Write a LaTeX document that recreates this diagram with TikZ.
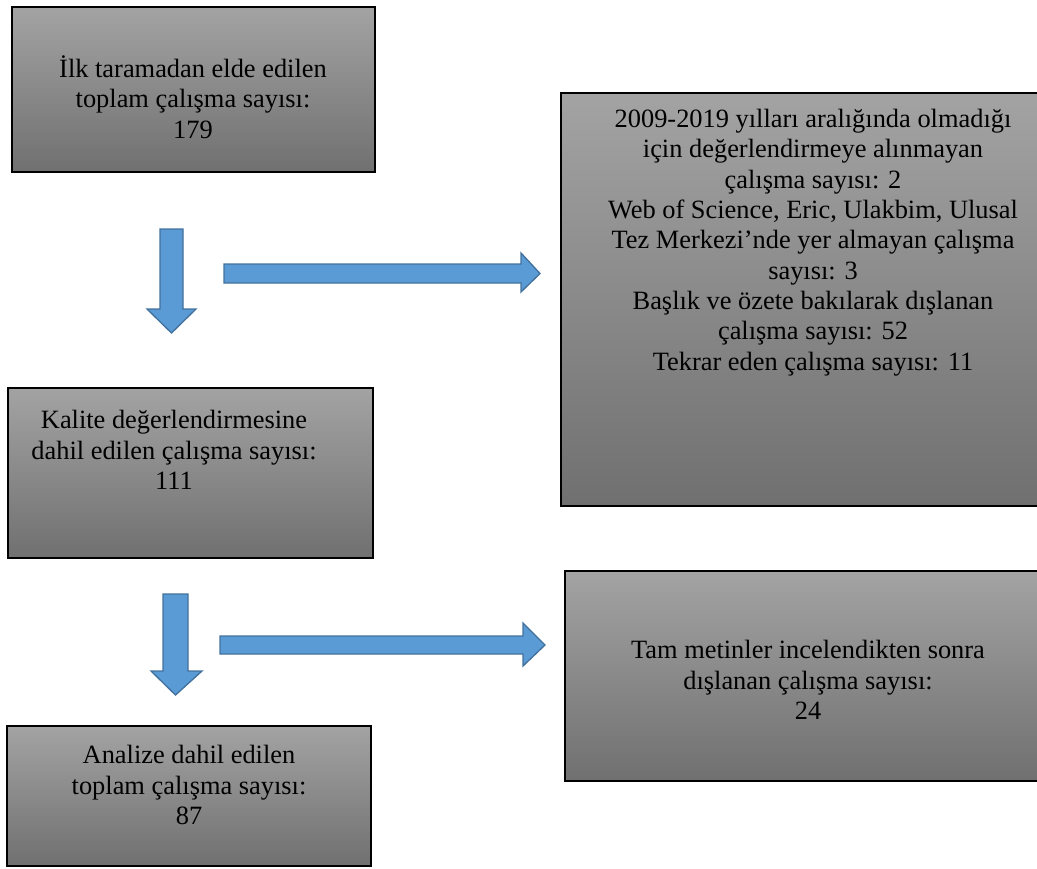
\documentclass[tikz,border=0pt]{standalone}
\usepackage{fontspec}
\setmainfont{Liberation Serif}
\usepackage{tikz}
\usepackage{xcolor}
\usetikzlibrary{positioning,calc}
\definecolor{boxtop}{RGB}{163,163,163}
\definecolor{boxbot}{RGB}{112,112,112}
\definecolor{arrfill}{RGB}{91,155,213}
\definecolor{arrline}{RGB}{65,113,156}
\newcommand{\pxu}{0.4545pt}

\begin{document}
\begin{tikzpicture}[x=\pxu, y=-\pxu,
  box/.style={draw=black, line width=0.8pt, top color=boxtop, bottom color=boxbot, inner sep=0pt},
  txt/.style={align=center, inner sep=0pt, font=\fontsize{12pt}{13.8pt}\selectfont},
  blockarr/.style={fill=arrfill, draw=arrline, line width=0.6pt, line join=miter}]
\useasboundingbox (0,0) rectangle (1037,868);

% Left column
\node[box, minimum width=363*\pxu, minimum height=165*\pxu] (ilk) at (193.5,89.5) {};
\node[txt] (ilkT) at (193,97) {İlk taramadan elde edilen\\toplam çalışma sayısı:\\179};

\node[box, minimum width=365*\pxu, minimum height=170*\pxu] (kalite) at (190.5,473) {};
\node[txt] (kaliteT) at (174,450) {Kalite değerlendirmesine\\dahil edilen çalışma sayısı:\\111};

\node[box, minimum width=364*\pxu, minimum height=140*\pxu] (analiz) at (189,796) {};
\node[txt] (analizT) at (189,785) {Analize dahil edilen\\toplam çalışma sayısı:\\87};

% Right column
\node[box, minimum width=484*\pxu, minimum height=413*\pxu] (dis1) at (803,299.5) {};
\node[txt] (dis1T) at (813,242.5) {2009-2019 yılları aralığında olmadığı\\için değerlendirmeye alınmayan\\çalışma sayısı: 2\\Web of Science, Eric, Ulakbim, Ulusal\\Tez Merkezi’nde yer almayan çalışma\\sayısı: 3\\Başlık ve özete bakılarak dışlanan\\çalışma sayısı: 52\\Tekrar eden çalışma sayısı: 11};

\node[box, minimum width=480*\pxu, minimum height=210*\pxu] (dis2) at (805,676) {};
\node[txt] (dis2T) at (808,680) {Tam metinler incelendikten sonra\\dışlanan çalışma sayısı:\\24};

% Block arrows
\draw[blockarr] (160,229) -- (183,229) -- (183,309) -- (196,309) -- (171.5,333)
  -- (147,309) -- (160,309) -- cycle;
\draw[blockarr] (224,264) -- (521,264) -- (521,253) -- (540,273.5) -- (521,292)
  -- (521,283) -- (224,283) -- cycle;
\draw[blockarr] (163,594) -- (188,594) -- (188,671) -- (202,671) -- (175.5,695)
  -- (151,671) -- (163,671) -- cycle;
\draw[blockarr] (220,636) -- (523,636) -- (523,623) -- (545,645) -- (523,666)
  -- (523,654) -- (220,654) -- cycle;
\end{tikzpicture}
\end{document}
